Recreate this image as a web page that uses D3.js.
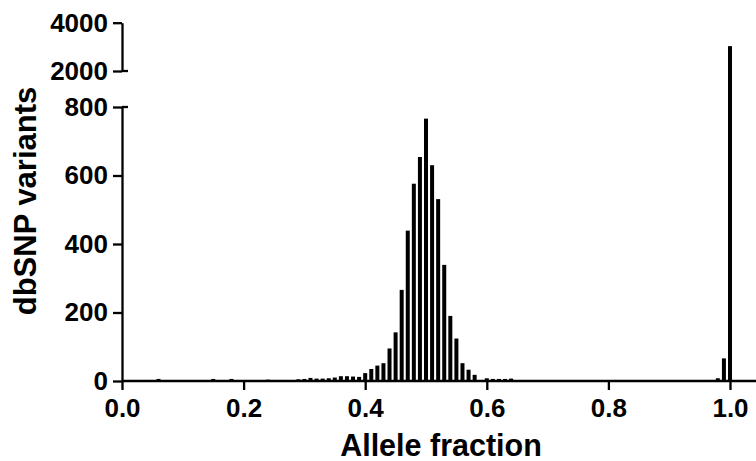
<!DOCTYPE html>
<html>
<head>
<meta charset="utf-8">
<script src="https://cdn.jsdelivr.net/npm/d3@7"></script>
<style>
  html, body { margin: 0; padding: 0; background: #fff; }
  svg { display: block; font-family: "Liberation Sans", Arial, sans-serif; font-weight: bold; }
</style>
</head>
<body>
<svg id="chart" width="756" height="461"></svg>
<script>
// Allele fraction histogram (0.01 bins), broken y axis
const fractions = [
  0.04, 0.06, 0.15, 0.16, 0.18, 0.19, 0.22, 0.24, 0.25, 0.26,
  0.29, 0.30, 0.31, 0.32, 0.33, 0.34, 0.35, 0.36, 0.37, 0.38, 0.39,
  0.40, 0.41, 0.42, 0.43, 0.44, 0.45, 0.46, 0.47, 0.48, 0.49,
  0.50, 0.51, 0.52, 0.53, 0.54, 0.55, 0.56, 0.57, 0.58, 0.59,
  0.60, 0.61, 0.62, 0.63, 0.64,
  0.97, 0.98, 0.99, 1.00
];
const counts = [
  3, 6, 6, 2, 6, 3, 2, 4, 2, 3,
  5, 6, 9, 7, 7, 8, 10, 14, 14, 13, 12,
  23, 35, 45, 52, 95, 142, 266, 439, 576, 654,
  766, 630, 531, 339, 190, 124, 52, 33, 18, 3,
  8, 6, 6, 6, 7,
  3, 8, 66, 3030
];
const xTicks = [0, 0.2, 0.4, 0.6, 0.8, 1.0];
const yTicksLow = [0, 200, 400, 600, 800];
const yTicksHigh = [2000, 4000];

const svg = d3.select("#chart");
const stroke = 2.3;

const x = d3.scaleLinear().domain([0, 1]).range([122, 730]);
const yLow = d3.scaleLinear().domain([0, 800]).range([381, 107]);
const yHigh = d3.scaleLinear().domain([2000, 4000]).range([71, 22.7]);
const yOf = v => v <= 800 ? yLow(v) : yHigh(v);

const barW = 4;
const bars = fractions.map((f, i) => ({ f, v: counts[i] }));

svg.append("g")
  .selectAll("rect")
  .data(bars)
  .join("rect")
  .attr("x", d => x(d.f) - barW / 2)
  .attr("width", barW)
  .attr("y", d => yOf(d.v))
  .attr("height", d => yLow(0) - yOf(d.v))
  .attr("fill", "#000");

// x axis
const xAxis = svg.append("g")
  .attr("transform", `translate(0,${yLow(0)})`)
  .call(d3.axisBottom(x).tickValues(xTicks).tickFormat(d3.format(".1f")).tickSize(9).tickPadding(9));
xAxis.select(".domain").remove();
xAxis.append("line")
  .attr("x1", x(0)).attr("x2", 756);

// y axis, lower part
const yAxisLow = svg.append("g")
  .attr("transform", `translate(${x(0)},0)`)
  .call(d3.axisLeft(yLow).tickValues(yTicksLow).tickFormat(d3.format("d")).tickSize(9).tickSizeOuter(0).tickPadding(5));
yAxisLow.append("line")
  .attr("x1", 0).attr("x2", 6)
  .attr("y1", yLow(800)).attr("y2", yLow(800));

// y axis, upper part
const yAxisHigh = svg.append("g")
  .attr("transform", `translate(${x(0)},0)`)
  .call(d3.axisLeft(yHigh).tickValues(yTicksHigh).tickFormat(d3.format("d")).tickSize(9).tickSizeOuter(0).tickPadding(5));
yAxisHigh.append("line")
  .attr("x1", 0).attr("x2", 6)
  .attr("y1", yHigh(2000)).attr("y2", yHigh(2000));

svg.selectAll(".tick line, .domain, g > line")
  .attr("stroke", "#000")
  .attr("stroke-width", stroke);

svg.selectAll(".tick text")
  .attr("fill", "#000")
  .style("font-family", "'Liberation Sans', Arial, sans-serif")
  .style("font-weight", "bold")
  .style("font-size", "26px");

// axis titles
svg.append("text")
  .attr("x", 441)
  .attr("y", 456)
  .attr("text-anchor", "middle")
  .style("font-size", "30.5px")
  .text("Allele fraction");

svg.append("text")
  .attr("transform", "translate(36,201) rotate(-90)")
  .attr("text-anchor", "middle")
  .style("font-size", "31px")
  .text("dbSNP variants");
</script>
</body>
</html>
